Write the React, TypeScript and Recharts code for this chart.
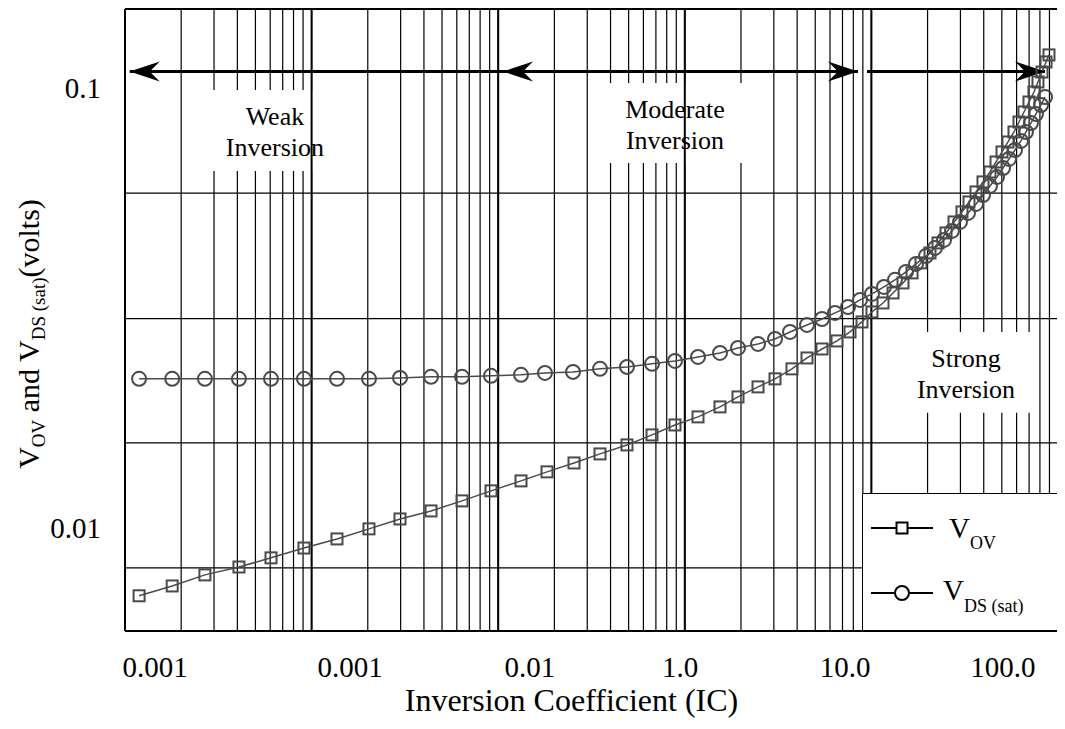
import {
    LineChart,
    Line,
    XAxis,
    YAxis,
    CartesianGrid,
    ReferenceArea,
    ReferenceLine,
    ReferenceDot,
    Legend
} from "recharts";

const FONT = '"Liberation Serif", "Times New Roman", serif';

// V_OV (squares)
const vovIC = [
    0.00119, 0.00179, 0.00268, 0.00408, 0.00606, 0.0091, 0.01368, 0.0203, 0.02977, 0.04365, 0.06398, 0.0915, 0.1325,
    0.1826, 0.2548, 0.3512, 0.4899, 0.6672, 0.886, 1.177, 1.544, 1.928, 2.468, 3.044, 3.754, 4.517, 5.437, 6.541, 7.681, 8.905, 10.07, 11.54,
    13.06, 14.77, 16.51, 18.44, 20.61, 22.75, 25.11, 27.72, 30.58, 33.34, 36.36, 39.63, 43.2, 46.54, 50.11, 53.95, 58.1, 61.8, 65.73, 69.9, 74.33, 78.09, 82.11, 86.26, 89.47
];
const vovV = [
    0.00701, 0.00738, 0.00782, 0.00815, 0.00855, 0.009, 0.00944, 0.00995, 0.01048, 0.01093, 0.01152, 0.01214, 0.01279,
    0.01341, 0.01405, 0.01473, 0.01544, 0.01627, 0.01714, 0.01788, 0.01884, 0.01985, 0.02092, 0.02182, 0.02299, 0.02434, 0.02551, 0.02661, 0.02789, 0.02939, 0.03097, 0.03246,
    0.03421, 0.03605, 0.03799, 0.04003, 0.04217, 0.04444, 0.04683, 0.0496, 0.05227, 0.05507, 0.05803, 0.06116, 0.06443, 0.06789, 0.07154, 0.07538, 0.07943, 0.08369, 0.0882, 0.09294, 0.09792, 0.1032, 0.1087, 0.1146, 0.1189
];

// V_DS(sat) (circles)
const vdsIC = [
    0.00119, 0.00179, 0.00268, 0.00408, 0.00606, 0.0091, 0.01368, 0.0203, 0.02977, 0.04365, 0.06398, 0.0915, 0.1325,
    0.1781, 0.2517, 0.3512, 0.4899, 0.6672, 0.886, 1.177, 1.544, 1.928, 2.468, 3.044, 3.663, 4.517, 5.437, 6.381, 7.494, 8.689,
    10.07, 11.68, 13.38, 15.32, 17.34, 19.62, 21.92, 24.5, 27.03, 29.84, 32.94, 36.36, 39.63, 43.2, 47.12, 50.74, 54.63, 58.83, 63.34, 67.36, 71.63, 76.2, 81.09, 85.19
];
const vdsV = [
    0.02182, 0.02182, 0.02182, 0.02182, 0.02182, 0.02182, 0.02182, 0.02182, 0.02193, 0.02205, 0.02205, 0.02217, 0.02228,
    0.02251, 0.02263, 0.02299, 0.02323, 0.0236, 0.02397, 0.02447, 0.02499, 0.02565, 0.02619, 0.02689, 0.02789, 0.02893, 0.02985, 0.03081, 0.03178, 0.03298,
    0.03403, 0.0353, 0.03663, 0.03819, 0.03981, 0.04151, 0.04329, 0.04515, 0.04732, 0.0496, 0.05199, 0.0545, 0.05712, 0.05988, 0.06277, 0.06579, 0.06897, 0.07229, 0.07579, 0.07943, 0.08326, 0.08728, 0.09149, 0.0954
];

// tick labels as printed in the figure
const xTickValues = [0.00145, 0.0161, 0.148, 0.943, 7.22, 50.7];
const xTickLabels = ["0.001", "0.001", "0.01", "1.0", "10.0", "100.0"];
const yTickValues = [0.1, 0.01];
const yTickLabels = ["0.1", "0.01"];

const X_DOMAIN = [0.001, 100];
const Y_DOMAIN = [0.00583, 0.1512];

// log grid
const gridDecades = [0.001, 0.01, 0.1, 1, 10];
const gridSteps = [1, 2, 3, 4, 5, 6, 7, 8, 9];
const gridY = [0.0577, 0.0299, 0.0156, 0.00811];

// region annotations
const regionText = [
    ["Weak", "Inversion"],
    ["Moderate", "Inversion"],
    ["Strong", "Inversion"]
];
const regionX = [[0.00268, 0.0151], [0.33, 2.378], [14.23, 72.6]];
const regionY = [[0.0648, 0.099], [0.0675, 0.1026], [0.01826, 0.02789]];

// region arrows across the top
const arrowY = 0.109;
const arrowSegments = [[0.00106, 8.47], [9.47, 85.2]];
const arrowTips = [0.00106, 0.1061, 8.47, 85.2];
const arrowDirs = [-1, -1, 1, 1];

const SERIES_COLOR = "#4a4a4a";

function SquareDot(props: any) {
    const { cx, cy, index } = props;
    if (cx == null || cy == null) return <g key={`s${index}`} />;
    return (
        <rect
            key={`s${index}`}
            x={cx - 5.5}
            y={cy - 5.5}
            width={11}
            height={11}
            fill="none"
            stroke={SERIES_COLOR}
            strokeWidth={2}
        />
    );
}

function CircleDot(props: any) {
    const { cx, cy, index } = props;
    if (cx == null || cy == null) return <g key={`c${index}`} />;
    return (
        <circle
            key={`c${index}`}
            cx={cx}
            cy={cy}
            r={7}
            fill="none"
            stroke={SERIES_COLOR}
            strokeWidth={2}
        />
    );
}

function BoxText({ viewBox, lines }: any) {
    if (!viewBox) return null;
    const cx = viewBox.x + viewBox.width / 2;
    const cy = viewBox.y + viewBox.height / 2;
    return (
        <text x={cx} textAnchor="middle" fontSize={26} fontFamily={FONT} fill="#000">
            <tspan x={cx} y={cy - 5}>{lines[0]}</tspan>
            <tspan x={cx} y={cy + 26}>{lines[1]}</tspan>
        </text>
    );
}

function ArrowHead(props: any, dir: number) {
    const { cx, cy } = props;
    if (cx == null || cy == null) return <g />;
    const d =
        `M ${cx} ${cy} L ${cx - dir * 30} ${cy - 10} L ${cx - dir * 20} ${cy} ` +
        `L ${cx - dir * 30} ${cy + 10} Z`;
    return <path d={d} fill="#000" />;
}

function LegendBox() {
    return (
        <div
            style={{
                width: 196,
                height: 138,
                background: "#fff",
                border: "1.5px solid #000",
                boxSizing: "border-box"
            }}
        >
            <svg width={193} height={135} style={{ display: "block" }}>
                <line x1={8} x2={70} y1={34} y2={34} stroke="#000" strokeWidth={2} />
                <rect x={33.5} y={28.5} width={11} height={11} fill="#fff" stroke="#000" strokeWidth={2} />
                <text x={86} y={44} fontFamily={FONT} fontSize={29} fill="#000">
                    V<tspan fontSize={18} dy={11}>OV</tspan>
                </text>

                <line x1={8} x2={70} y1={99} y2={99} stroke="#000" strokeWidth={2} />
                <circle cx={39} cy={99} r={7} fill="#fff" stroke="#000" strokeWidth={2} />
                <text x={80} y={106} fontFamily={FONT} fontSize={29} fill="#000">
                    V<tspan fontSize={18} dy={12}>DS (sat)</tspan>
                </text>
            </svg>
        </div>
    );
}

function App() {

    const vovData = vovIC.map((ic, i) => ({ ic, v: vovV[i] }));
    const vdsData = vdsIC.map((ic, i) => ({ ic, v: vdsV[i] }));

    const gridX = [
        ...gridDecades.flatMap((d) => gridSteps.map((s) => Number((d * s).toPrecision(3)))),
        100
    ];

    return (

        <div style={{ width: 1055, height: 713, fontFamily: FONT }}>

            <LineChart
                width={1055}
                height={713}
                margin={{ top: 1, right: 5, bottom: 0, left: 0 }}
            >

                <CartesianGrid
                    stroke="#000"
                    strokeWidth={1.2}
                    verticalValues={gridX}
                    horizontalValues={gridY}
                />

                <XAxis
                    type="number"
                    dataKey="ic"
                    scale="log"
                    domain={X_DOMAIN}
                    allowDataOverflow
                    ticks={xTickValues}
                    interval={0}
                    tickFormatter={(v: number, i: number) => xTickLabels[i]}
                    tickLine={false}
                    tickSize={0}
                    tickMargin={25}
                    height={90}
                    axisLine={{ stroke: "#000", strokeWidth: 2 }}
                    tick={{ fill: "#000", fontSize: 29, fontFamily: FONT }}
                    label={({ viewBox }: any) => (
                        <text
                            x={viewBox.x + viewBox.width / 2 - 20}
                            y={viewBox.y + 80}
                            textAnchor="middle"
                            fontSize={32}
                            fontFamily={FONT}
                            fill="#000"
                        >
                            Inversion Coefficient (IC)
                        </text>
                    )}
                />

                <YAxis
                    type="number"
                    dataKey="v"
                    scale="log"
                    domain={Y_DOMAIN}
                    allowDataOverflow
                    ticks={yTickValues}
                    interval={0}
                    tickFormatter={(v: number, i: number) => yTickLabels[i]}
                    tickLine={false}
                    tickSize={0}
                    tickMargin={24}
                    width={117}
                    axisLine={{ stroke: "#000", strokeWidth: 2 }}
                    tick={{ fill: "#000", fontSize: 29, fontFamily: FONT }}
                    label={({ viewBox }: any) => {
                        const x = viewBox.x + 31;
                        const y = viewBox.y + viewBox.height / 2 + 14;
                        return (
                            <text
                                x={x}
                                y={y}
                                transform={`rotate(-90 ${x} ${y})`}
                                textAnchor="middle"
                                fontSize={30}
                                fontFamily={FONT}
                                fill="#000"
                            >
                                V<tspan fontSize={19} dy={6}>OV</tspan>
                                <tspan dy={-6}> and V</tspan>
                                <tspan fontSize={19} dy={6}>DS (sat)</tspan>
                                <tspan dy={-6}>(volts)</tspan>
                            </text>
                        );
                    }}
                />

                {/* frame */}
                <ReferenceLine y={Y_DOMAIN[1]} stroke="#000" strokeWidth={2} />
                <ReferenceLine x={X_DOMAIN[1]} stroke="#000" strokeWidth={2} />

                {/* decade lines a bit heavier */}
                {gridDecades.slice(1).map((d) => (
                    <ReferenceLine key={`dec${d}`} x={d} stroke="#000" strokeWidth={2} />
                ))}

                {regionText.map((lines, i) => (
                    <ReferenceArea
                        key={`reg${i}`}
                        x1={regionX[i][0]}
                        x2={regionX[i][1]}
                        y1={regionY[i][0]}
                        y2={regionY[i][1]}
                        fill="#fff"
                        fillOpacity={1}
                        stroke="none"
                        label={(p: any) => <BoxText viewBox={p.viewBox} lines={lines} />}
                    />
                ))}

                {arrowSegments.map((s, i) => (
                    <ReferenceLine
                        key={`arr${i}`}
                        segment={[{ x: s[0], y: arrowY }, { x: s[1], y: arrowY }]}
                        stroke="#000"
                        strokeWidth={3}
                    />
                ))}

                {arrowTips.map((x, i) => (
                    <ReferenceDot
                        key={`tip${i}`}
                        x={x}
                        y={arrowY}
                        r={1}
                        shape={(p: any) => ArrowHead(p, arrowDirs[i])}
                    />
                ))}

                <Line
                    data={vovData}
                    dataKey="v"
                    type="linear"
                    stroke={SERIES_COLOR}
                    strokeWidth={1.5}
                    dot={SquareDot}
                    activeDot={false}
                    legendType="none"
                    isAnimationActive={false}
                />

                <Line
                    data={vdsData}
                    dataKey="v"
                    type="linear"
                    stroke={SERIES_COLOR}
                    strokeWidth={1.5}
                    dot={CircleDot}
                    activeDot={false}
                    legendType="none"
                    isAnimationActive={false}
                />

                <Legend
                    layout="vertical"
                    align="center"
                    verticalAlign="middle"
                    wrapperStyle={{ position: "absolute", left: 854, top: 485, width: 196, height: 138 }}
                    content={() => <LegendBox />}
                />

            </LineChart>

        </div>

    );

}

export default App;
